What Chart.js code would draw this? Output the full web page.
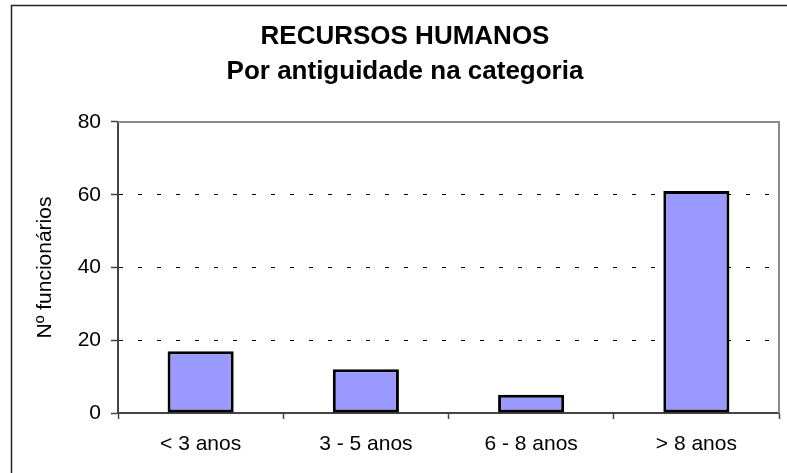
<!DOCTYPE html>
<html lang="pt">
<head>
    <meta charset="UTF-8">
    <title>Recursos Humanos</title>
    <script src="https://cdn.jsdelivr.net/npm/chart.js@4"></script>
    <style>
        html, body {
            margin: 0;
            padding: 0;
            background: #ffffff;
        }
        canvas {
            display: block;
        }
    </style>
</head>
<body>
    <canvas id="rhChart" width="787" height="473"></canvas>

    <script>
        // Data
        const categorias = ['< 3 anos', '3 - 5 anos', '6 - 8 anos', '> 8 anos'];
        const funcionarios = [17, 12, 5, 61];
        const tituloLinhas = ['RECURSOS HUMANOS', 'Por antiguidade na categoria'];
        const tituloEixoY = 'Nº funcionários';

        const fonte = "'Liberation Sans', Arial, sans-serif";

        // outer frame (left/top visible, rest cropped) + grey plot frame top/right
        const molduraPlugin = {
            id: 'moldura',
            beforeDraw(chart) {
                const ctx = chart.ctx;
                ctx.save();
                ctx.strokeStyle = '#222222';
                ctx.lineWidth = 1.5;
                ctx.strokeRect(11.5, 5.5, 820, 520);
                ctx.restore();
            },
            beforeDatasetsDraw(chart) {
                const a = chart.chartArea;
                const ctx = chart.ctx;
                ctx.save();
                ctx.strokeStyle = '#8a8a8a';
                ctx.lineWidth = 2;
                ctx.beginPath();
                ctx.moveTo(a.left, a.top);
                ctx.lineTo(a.right, a.top);
                ctx.lineTo(a.right, a.bottom);
                ctx.stroke();
                ctx.restore();
            }
        };

        const ctx = document.getElementById('rhChart').getContext('2d');
        new Chart(ctx, {
            type: 'bar',
            data: {
                labels: categorias,
                datasets: [{
                    label: tituloEixoY,
                    data: funcionarios,
                    backgroundColor: '#9999ff',
                    borderColor: '#000000',
                    borderWidth: 3,
                    borderSkipped: false,
                    barPercentage: 0.4,
                    categoryPercentage: 1
                }]
            },
            options: {
                responsive: false,
                animation: false,
                layout: {
                    padding: { left: 31, right: 8, top: 0, bottom: 0 }
                },
                plugins: {
                    legend: { display: false },
                    tooltip: { enabled: false },
                    title: {
                        display: true,
                        text: tituloLinhas,
                        color: '#000000',
                        font: { family: fonte, size: 26, weight: 'bold', lineHeight: 1.346 },
                        padding: { top: 19.5, bottom: 32.5 }
                    }
                },
                scales: {
                    x: {
                        offset: true,
                        afterFit(scale) { scale.height = 60; },
                        grid: {
                            offset: true,
                            drawOnChartArea: false,
                            drawTicks: true,
                            tickLength: 6,
                            tickColor: '#444444',
                            tickWidth: 1.5
                        },
                        border: { color: '#444444', width: 2 },
                        ticks: {
                            color: '#000000',
                            padding: 13,
                            font: { family: fonte, size: 21 }
                        }
                    },
                    y: {
                        min: 0,
                        max: 80,
                        afterFit(scale) { scale.width = 87; },
                        grid: {
                            color: function(c) {
                                const v = c.tick ? c.tick.value : null;
                                return (v === 0 || v === 80) ? 'rgba(0,0,0,0)' : '#000000';
                            },
                            lineWidth: 1,
                            tickLength: 7,
                            tickColor: '#444444',
                            tickWidth: 1.5,
                            tickBorderDash: []
                        },
                        border: { color: '#444444', width: 2, dash: [4, 15] },
                        ticks: {
                            stepSize: 20,
                            color: '#000000',
                            padding: 10,
                            font: { family: fonte, size: 21 }
                        },
                        title: {
                            display: true,
                            text: tituloEixoY,
                            color: '#000000',
                            padding: { top: 1.4, bottom: 0 },
                            font: { family: fonte, size: 21 }
                        }
                    }
                }
            },
            plugins: [molduraPlugin]
        });
    </script>
</body>
</html>
